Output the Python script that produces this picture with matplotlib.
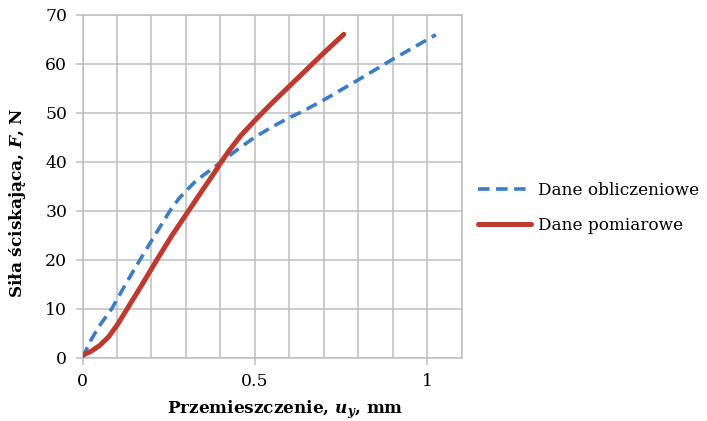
import matplotlib
matplotlib.use("Agg")
import matplotlib.pyplot as plt
import numpy as np

# Data
calc_x = [0.0, 0.022, 0.05, 0.085, 0.125, 0.167, 0.21, 0.254, 0.28, 0.30, 0.325, 0.35, 0.375, 0.40, 0.45, 0.50, 0.55, 0.60, 0.637, 0.70, 0.80, 0.90, 1.025]
calc_y = [0.0, 3.3, 6.6, 10.0, 15.0, 20.0, 25.0, 30.0, 32.5, 34.0, 35.8, 37.2, 38.5, 39.8, 42.5, 45.0, 47.1, 49.0, 50.2, 52.6, 56.7, 60.9, 65.9]

meas_x = [0.0, 0.025, 0.05, 0.075, 0.10, 0.128, 0.17, 0.216, 0.26, 0.308, 0.35, 0.385, 0.40, 0.429, 0.46, 0.50, 0.55, 0.60, 0.65, 0.70, 0.758]
meas_y = [0.5, 1.3, 2.5, 4.2, 6.6, 9.8, 14.6, 20.0, 25.0, 30.0, 34.4, 38.0, 39.7, 42.6, 45.4, 48.4, 52.0, 55.4, 58.8, 62.2, 66.0]

labels = ["Dane obliczeniowe", "Dane pomiarowe"]
xlabel = "Przemieszczenie, $u_y$, mm"
ylabel = "Siła ściskająca, $F$, N"

FONT = "DejaVu Serif"
plt.rcParams["font.family"] = [FONT]
plt.rcParams["mathtext.fontset"] = "custom"
plt.rcParams["mathtext.it"] = FONT + ":italic:bold"
plt.rcParams["mathtext.rm"] = FONT + ":bold"
plt.rcParams["mathtext.bf"] = FONT + ":bold"

fig = plt.figure(figsize=(7.07, 4.21), dpi=100)
ax = fig.add_axes([0.1167, 0.1504, 0.5363, 0.8147])

grid_c = "#BFBFBF"
ax.plot(calc_x, calc_y, color="#3B7DC4", lw=2.6, ls=(0, (3.2, 1.8)), label=labels[0], zorder=3)
ax.plot(meas_x, meas_y, color="#C0392F", lw=3.6, label=labels[1], zorder=4,
        solid_capstyle="round", solid_joinstyle="round")

ax.set_xlim(0, 1.1)
ax.set_ylim(0, 70)
ax.set_xticks([0, 0.5, 1])
ax.set_xticklabels(["0", "0.5", "1"])
ax.set_xticks(np.arange(0, 1.101, 0.1), minor=True)
ax.set_yticks(np.arange(0, 71, 10))
ax.grid(True, which="both", color=grid_c, lw=1.1, zorder=0)
ax.set_axisbelow(True)
for s in ax.spines.values():
    s.set_color(grid_c)
    s.set_linewidth(1.1)
ax.tick_params(axis="both", which="major", color=grid_c, length=5, width=1.1, labelsize=12.4, pad=6)
ax.tick_params(axis="x", which="minor", length=0)

ax.set_xlabel(xlabel, fontsize=12.2, fontweight="bold")
ax.set_ylabel(ylabel, fontsize=12.2, fontweight="bold")
ax.xaxis.set_label_coords(0.534, -0.1175)
ax.yaxis.set_label_coords(-0.144, 0.451)

leg = ax.legend(loc="center left", bbox_to_anchor=(0.655, 0.506), bbox_transform=fig.transFigure,
                frameon=False, fontsize=12.2, handlelength=3.1, handletextpad=0.42, labelspacing=1.05)

fig.savefig("out.png", dpi=100)
